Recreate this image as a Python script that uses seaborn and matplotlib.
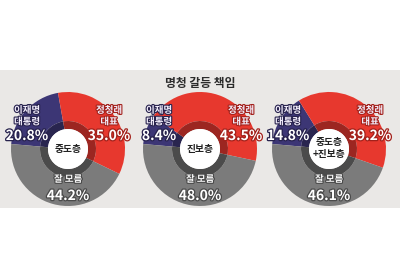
import matplotlib
matplotlib.use("Agg")
import matplotlib.pyplot as plt
import matplotlib.patheffects as pe
from matplotlib.patches import Rectangle, Circle
import seaborn as sns
import numpy as np

sns.set_theme(style="white")
plt.rcParams['font.family'] = ['Noto Sans CJK KR', 'DejaVu Sans']

# ---- data ----
title = "명청 갈등 책임"
groups = ["중도층", "진보층", "중도층\n+진보층"]
categories = ["이재명\n대통령", "정청래\n대표", "잘 모름"]
lee_vals = [20.8, 8.4, 14.8]
jung_vals = [35.0, 43.5, 39.2]
unknown_vals = [44.2, 48.0, 46.1]

# ---- style ----
W, H = 400, 280
colors = ["#3c3675", "#e7382e", "#7b7b7b"]
dark_colors = ["#29254f", "#9c2621", "#4b4b4b"]
outline = ["#27224d", "#a3211b", "#4a4a4a"]
panel_color = "#eae8e6"
centers_x = [68, 200, 329]
cy = 149
R_out, R_mid, R_in = 57, 28, 20
bottom_cut = 200

fig = plt.figure(figsize=(4, 2.8), dpi=100)
fig.patch.set_facecolor("white")
fig.patches.append(Rectangle((0, 1 - 208 / H), 1, (208 - 70) / H,
                             transform=fig.transFigure, facecolor=panel_color,
                             edgecolor="none", zorder=-5))
fig.text(0.5, 1 - 83 / H, title, ha="center", va="center", fontsize=8.5,
         fontweight="bold", color="#2b2b2b")

half = 65
for i, cx in enumerate(centers_x):
    left = (cx - half) / W
    top = cy - half
    ax_h = bottom_cut - top
    ax = fig.add_axes([left, 1 - bottom_cut / H, 2 * half / W, ax_h / H])
    ax.set_zorder(2)
    ax.set_facecolor("none")
    vals = [lee_vals[i], jung_vals[i], unknown_vals[i]]
    start = 175
    ax.pie(vals, colors=colors, radius=R_out, startangle=start, counterclock=False,
           wedgeprops=dict(width=R_out - R_mid, edgecolor="none", linewidth=0),
           frame=True)
    ax.pie(vals, colors=dark_colors, radius=R_mid, startangle=start, counterclock=False,
           wedgeprops=dict(width=R_mid - R_in, edgecolor="none", linewidth=0),
           frame=True)
    ax.add_patch(Circle((0, 0), R_in, facecolor="white", edgecolor="none", zorder=5))
    ax.set_xlim(-half, half)
    ax.set_ylim(-(bottom_cut - cy), half)
    ax.set_aspect("equal")
    ax.axis("off")

    # center label
    ax.text(0, 0 if "\n" not in groups[i] else 1, groups[i], ha="center", va="center",
            fontsize=7, color="#222222", fontweight="bold", linespacing=1.3, zorder=6)

    # labels
    label_specs = [(-41, categories[0], lee_vals[i], outline[0]),
                   (41, categories[1], jung_vals[i], outline[1])]
    for x, name, v, oc in label_specs:
        lines = name.split("\n")
        ax.text(x, 39, lines[0], ha="center", va="center", fontsize=6.8,
                color="#f3eefc", fontweight="bold", zorder=7,
                path_effects=[pe.withStroke(linewidth=1.6, foreground=oc)])
        ax.text(x, 27.5, lines[1], ha="center", va="center", fontsize=6.8,
                color="#f3eefc", fontweight="bold", zorder=7,
                path_effects=[pe.withStroke(linewidth=1.6, foreground=oc)])
        ax.text(x, 13, f"{v:.1f}%", ha="center", va="center", fontsize=10,
                color="white", fontweight="bold", zorder=7,
                path_effects=[pe.withStroke(linewidth=1.8, foreground=oc)])
    ax.text(0, -30, categories[2], ha="center", va="center", fontsize=6.8,
            color="#f5f5f5", fontweight="bold", zorder=7,
            path_effects=[pe.withStroke(linewidth=1.6, foreground=outline[2])])
    ax.text(0, -47, f"{unknown_vals[i]:.1f}%", ha="center", va="center", fontsize=10,
            color="white", fontweight="bold", zorder=7, clip_on=False,
            path_effects=[pe.withStroke(linewidth=1.8, foreground=outline[2])])

fig.savefig("out.png", dpi=100)
